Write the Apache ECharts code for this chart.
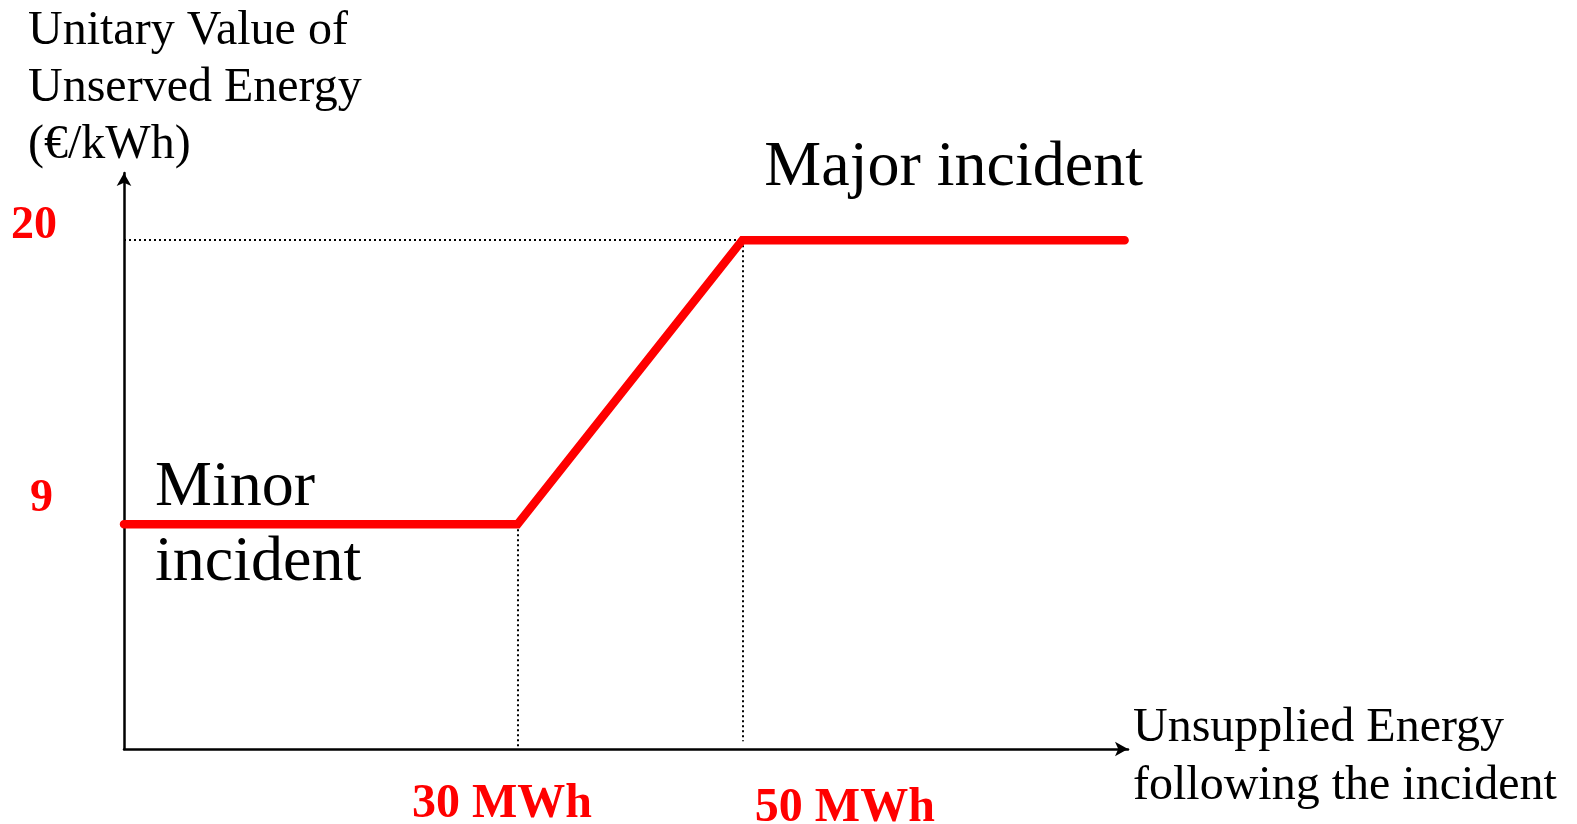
<!DOCTYPE html>
<html>
<head>
<meta charset="utf-8">
<script src="https://cdn.jsdelivr.net/npm/echarts@6/dist/echarts.min.js"></script>
<style>
html,body{margin:0;padding:0;background:#fff;}
#chart{width:1577px;height:824px;}
</style>
</head>
<body>
<div id="chart"></div>
<script>
// Vertices of the schematic curve (x: unsupplied energy, MWh; y: value, €/kWh)
// The reference's axis origin is unlabeled; the curve starts at the axis origin.
const energyMWh = [-5, 30, 50, 84];
const unitValue = [9, 9, 20, 20];
const xTickValues = [30, 50];
const xTickLabels = ['30 MWh', '50 MWh'];
const yTickValues = [9, 20];
const yTickLabels = ['9', '20'];
const yAxisName = 'Unitary Value of\nUnserved Energy\n(€/kWh)';
const xAxisNameLines = ['Unsupplied Energy', 'following the incident'];
const majorLabel = 'Major incident';
const minorLabel = 'Minor\nincident';

const FONT = '"Liberation Serif", "Times New Roman", serif';
const X_MIN = -5, X_MAX = 84.3, Y_MIN = 0.3, Y_MAX = 22.6;

const chart = echarts.init(document.getElementById('chart'), null, {renderer: 'canvas'});
chart.setOption({
  backgroundColor: '#ffffff',
  animation: false,
  title: {
    text: yAxisName,
    left: 28, top: 3, padding: 0,
    textStyle: {fontFamily: FONT, fontSize: 48, fontWeight: 'normal', lineHeight: 57, color: '#000'}
  },
  grid: {left: 124, top: 173, width: 1004, height: 576, containLabel: false, outerBoundsMode: 'none'},
  xAxis: {
    type: 'value', min: X_MIN, max: X_MAX,
    name: '{f|' + xAxisNameLines[0] + '}\n{n|' + xAxisNameLines[1] + '}',
    nameLocation: 'end', nameGap: 5,
    nameTextStyle: {
      fontFamily: FONT, fontSize: 48, lineHeight: 57, color: '#000', align: 'left', verticalAlign: 'middle',
      rich: {
        f: {fontFamily: FONT, fontSize: 48, lineHeight: 57, color: '#000', padding: [16, 0, 0, 0]},
        n: {fontFamily: FONT, fontSize: 48, lineHeight: 57, color: '#000', padding: [18, 0, 0, 0]}
      }
    },
    axisLine: {show: true, onZero: false, lineStyle: {color: '#000', width: 2.5}, symbol: ['none', 'arrow'], symbolSize: [11, 13]},
    axisTick: {show: false},
    splitLine: {show: false},
    axisLabel: {
      customValues: xTickValues,
      margin: 32,
      formatter: function (v) {
        const i = xTickValues.indexOf(v);
        return '{' + (i === 0 ? 'a' : 'b') + '|' + xTickLabels[i] + '}';
      },
      rich: {
        a: {fontFamily: FONT, fontSize: 48, fontWeight: 'bold', color: '#ff0000', padding: [0, 31, 0, 0]},
        b: {fontFamily: FONT, fontSize: 48, fontWeight: 'bold', color: '#ff0000', padding: [4, 0, 0, 205]}
      }
    }
  },
  yAxis: {
    type: 'value', min: Y_MIN, max: Y_MAX,
    axisLine: {show: true, onZero: false, lineStyle: {color: '#000', width: 2.5}, symbol: ['none', 'arrow'], symbolSize: [11, 13]},
    axisTick: {show: false},
    splitLine: {show: false},
    axisLabel: {
      customValues: yTickValues,
      margin: 67,
      formatter: function (v) {
        const i = yTickValues.indexOf(v);
        return '{' + (i === 0 ? 'a' : 'b') + '|' + yTickLabels[i] + '}';
      },
      rich: {
        a: {fontFamily: FONT, fontSize: 46, fontWeight: 'bold', color: '#ff0000', padding: [0, 4, 51, 0]},
        b: {fontFamily: FONT, fontSize: 46, fontWeight: 'bold', color: '#ff0000', padding: [0, 0, 28, 0]}
      }
    }
  },
  series: [{
    type: 'line',
    data: energyMWh.map((x, i) => [x, unitValue[i]]),
    showSymbol: false,
    symbol: 'none',
    lineStyle: {color: '#ff0000', width: 8.5, cap: 'round', join: 'miter'},
    z: 5,
    markLine: {
      silent: true,
      symbol: ['none', 'none'],
      label: {show: false},
      lineStyle: {color: '#000', type: [2, 3], width: 2},
      z: 3,
      data: [
        [{coord: [X_MIN, unitValue[2]]}, {coord: [energyMWh[2], unitValue[2]]}],
        [{coord: [energyMWh[1], unitValue[1]]}, {coord: [energyMWh[1], Y_MIN]}],
        [{coord: [energyMWh[2], unitValue[2]]}, {coord: [energyMWh[2], 0.6]}]
      ]
    },
    markPoint: {
      silent: true,
      symbol: 'circle', symbolSize: 0,
      data: [
        {coord: [energyMWh[2], unitValue[2]], label: {show: true, formatter: majorLabel, position: 'right', distance: 0, offset: [22, -72],
          fontFamily: FONT, fontSize: 64, color: '#000'}},
        {coord: [energyMWh[0], unitValue[0]], label: {show: true, formatter: minorLabel, position: 'right', distance: 0, offset: [31, 1],
          fontFamily: FONT, fontSize: 64, lineHeight: 75, color: '#000'}}
      ]
    }
  }]
});
</script>
</body>
</html>
